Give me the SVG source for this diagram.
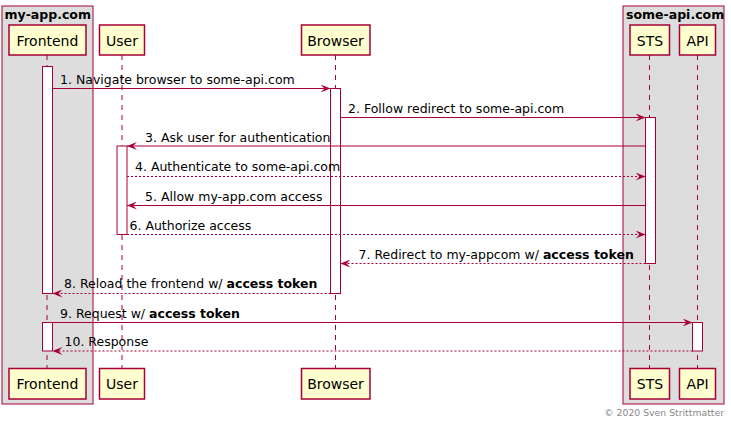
<svg xmlns="http://www.w3.org/2000/svg" width="731" height="425" viewBox="0 0 731 425">
<style>
.box{fill:#DDDDDD;stroke:#A80036;stroke-width:1}
.btitle{font-family:"DejaVu Sans",sans-serif;font-size:12.5px;font-weight:bold;fill:#000}
.part{fill:#FEFECE;stroke:#A80036;stroke-width:1.5}
.plabel{font-family:"DejaVu Sans",sans-serif;font-size:14px;fill:#000}
.life{stroke:#A80036;stroke-width:1;stroke-dasharray:5,5;fill:none}
.act{fill:#FFFFFF;stroke:#A80036;stroke-width:1}
.msg{stroke:#A80036;stroke-width:1;fill:none}
.dot{stroke-dasharray:2,2}
.mlabel{font-family:"DejaVu Sans",sans-serif;font-size:12.5px;fill:#000}
.b{font-weight:bold}
.foot{font-family:"DejaVu Sans",sans-serif;font-size:9.3px;fill:#888888}
</style>
<defs>
<marker id="ah" viewBox="0 0 10 8" refX="10" refY="4" markerWidth="10" markerHeight="8" markerUnits="userSpaceOnUse" orient="auto">
<polygon points="0,0 10,4 0,8 4,4" fill="#A80036"/>
</marker>
</defs>

<g id="box-my-app">
<rect class="box" x="2" y="6" width="91" height="398"/>
<text class="btitle" x="4.5" y="18.5">my-app.com</text>
</g>
<g id="box-some-api">
<rect class="box" x="623" y="6" width="101" height="398"/>
<text class="btitle" x="626" y="18.5">some-api.com</text>
</g>

<g id="lifelines">
<line class="life" x1="47" y1="55" x2="47" y2="368"/>
<line class="life" x1="122" y1="55" x2="122" y2="368"/>
<line class="life" x1="335.5" y1="55" x2="335.5" y2="368"/>
<line class="life" x1="649.5" y1="55" x2="649.5" y2="368"/>
<line class="life" x1="697.5" y1="55" x2="697.5" y2="368"/>
</g>

<g id="node-frontend">
<rect class="part" x="9" y="25" width="77" height="30"/>
<text class="plabel" x="47.5" y="45.5" text-anchor="middle">Frontend</text>
<rect class="part" x="9" y="368.5" width="77" height="30.5"/>
<text class="plabel" x="47.5" y="389" text-anchor="middle">Frontend</text>
</g>
<g id="node-user">
<rect class="part" x="99.5" y="25" width="45" height="30"/>
<text class="plabel" x="122" y="45.5" text-anchor="middle">User</text>
<rect class="part" x="99.5" y="368.5" width="45" height="30.5"/>
<text class="plabel" x="122" y="389" text-anchor="middle">User</text>
</g>
<g id="node-browser">
<rect class="part" x="301.5" y="25" width="68.5" height="30"/>
<text class="plabel" x="335.5" y="45.5" text-anchor="middle">Browser</text>
<rect class="part" x="301.5" y="368.5" width="68.5" height="30.5"/>
<text class="plabel" x="335.5" y="389" text-anchor="middle">Browser</text>
</g>
<g id="node-sts">
<rect class="part" x="630" y="25" width="39.5" height="30"/>
<text class="plabel" x="650" y="45.5" text-anchor="middle">STS</text>
<rect class="part" x="630" y="368.5" width="39.5" height="30.5"/>
<text class="plabel" x="650" y="389" text-anchor="middle">STS</text>
</g>
<g id="node-api">
<rect class="part" x="679.5" y="25" width="36" height="30"/>
<text class="plabel" x="697.5" y="45.5" text-anchor="middle">API</text>
<rect class="part" x="679.5" y="368.5" width="36" height="30.5"/>
<text class="plabel" x="697.5" y="389" text-anchor="middle">API</text>
</g>

<g id="activations">
<rect class="act" x="42.5" y="66.5" width="10" height="227"/>
<rect class="act" x="42.5" y="322.5" width="10" height="28.5"/>
<rect class="act" x="330.5" y="88.5" width="10" height="205"/>
<rect class="act" x="645.5" y="117.5" width="10" height="146"/>
<rect class="act" x="117" y="146" width="10" height="88.5"/>
<rect class="act" x="692.5" y="322.5" width="10" height="28.5"/>
</g>

<g id="connectors">
<line class="msg" x1="52.5" y1="88.5" x2="330.5" y2="88.5" marker-end="url(#ah)"/>
<line class="msg" x1="340.5" y1="117.5" x2="645.5" y2="117.5" marker-end="url(#ah)"/>
<line class="msg" x1="645.5" y1="146" x2="127" y2="146" marker-end="url(#ah)"/>
<line class="msg dot" x1="127" y1="176.5" x2="645.5" y2="176.5" marker-end="url(#ah)"/>
<line class="msg" x1="645.5" y1="205.5" x2="127" y2="205.5" marker-end="url(#ah)"/>
<line class="msg dot" x1="127" y1="234.5" x2="645.5" y2="234.5" marker-end="url(#ah)"/>
<line class="msg dot" x1="645.5" y1="263.5" x2="340.5" y2="263.5" marker-end="url(#ah)"/>
<line class="msg dot" x1="330.5" y1="293.5" x2="52.5" y2="293.5" marker-end="url(#ah)"/>
<line class="msg" x1="42.5" y1="322.5" x2="692.5" y2="322.5" marker-end="url(#ah)"/>
<line class="msg dot" x1="692.5" y1="351" x2="52.5" y2="351" marker-end="url(#ah)"/>
</g>

<g id="labels">
<text class="mlabel" x="60" y="83.5">1. Navigate browser to some-api.com</text>
<text class="mlabel" x="348" y="112.5">2. Follow redirect to some-api.com</text>
<text class="mlabel" x="145" y="141.5">3. Ask user for authentication</text>
<text class="mlabel" x="135" y="171">4. Authenticate to some-api.com</text>
<text class="mlabel" x="145" y="200.5">5. Allow my-app.com access</text>
<text class="mlabel" x="129.5" y="229.5">6. Authorize access</text>
<text class="mlabel" x="358.5" y="258.5">7. Redirect to my-appcom w/ <tspan class="b">access token</tspan></text>
<text class="mlabel" x="64" y="288">8. Reload the frontend w/ <tspan class="b">access token</tspan></text>
<text class="mlabel" x="60" y="317.5">9. Request w/ <tspan class="b">access token</tspan></text>
<text class="mlabel" x="64.5" y="346">10. Response</text>
</g>

<text class="foot" x="724" y="416" text-anchor="end">© 2020 Sven Strittmatter</text>
</svg>
